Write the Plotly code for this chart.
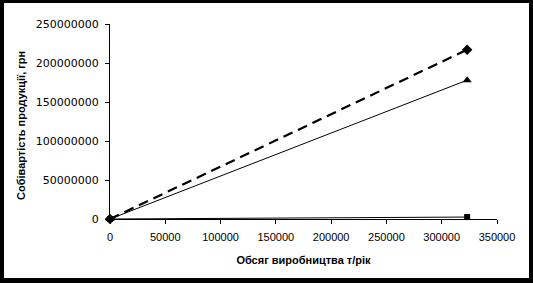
import plotly.graph_objects as go

# Data
x_vals = [0, 323000]
diamond_series = [0, 217000000]
triangle_series = [0, 178000000]
square_series = [0, 2500000]

x_title = "Обсяг виробництва т/рік"
y_title = "Собівартість продукції, грн"

W, H = 533, 283
L, R, T, B = 110, 36, 24, 64
PW, PH = W - L - R, H - T - B


def px(xp):
    return (xp - L) / PW


def py(yp):
    return (H - B - yp) / PH


fig = go.Figure()
fig.add_trace(go.Scatter(x=x_vals, y=square_series, mode="lines+markers",
                         line=dict(color="black", width=1),
                         marker=dict(symbol="square", size=6, color="black"),
                         cliponaxis=False))
fig.add_trace(go.Scatter(x=x_vals, y=triangle_series, mode="lines+markers",
                         line=dict(color="black", width=1),
                         marker=dict(symbol="triangle-up", size=8, color="black"),
                         cliponaxis=False))
fig.add_trace(go.Scatter(x=x_vals, y=diamond_series, mode="lines+markers",
                         line=dict(color="black", width=2.2, dash="10px,6px"),
                         marker=dict(symbol="diamond", size=8, color="black"),
                         cliponaxis=False))

shapes = []
for (x0, y0, x1, y1) in [(0, 0, 4, H), (0, 0, W, 3), (529, 0, W, H), (0, 278, W, H)]:
    shapes.append(dict(type="rect", xref="paper", yref="paper",
                       x0=px(x0), x1=px(x1), y0=py(y0), y1=py(y1),
                       fillcolor="black", line=dict(width=0), layer="above"))

fig.update_layout(
    width=W, height=H,
    margin=dict(l=L, r=R, t=T, b=B),
    paper_bgcolor="white", plot_bgcolor="white",
    showlegend=False,
    shapes=shapes,
    xaxis=dict(range=[0, 350000], dtick=50000, tick0=0, tickformat="d",
               showgrid=False, zeroline=False, showline=True, linecolor="black", linewidth=1,
               ticks="outside", ticklen=4, tickcolor="black", ticklabelstandoff=4,
               tickfont=dict(family="Liberation Sans", size=11, color="black"),
               title=dict(text=x_title, standoff=14,
                          font=dict(family="Liberation Sans", size=11, color="black", weight="bold"))),
    yaxis=dict(range=[0, 250000000], dtick=50000000, tick0=0, tickformat="d",
               showgrid=False, zeroline=False, showline=True, linecolor="black", linewidth=1,
               ticks="outside", ticklen=4, tickcolor="black", ticklabelstandoff=4,
               tickfont=dict(family="DejaVu Sans", size=11, color="black")),
    annotations=[dict(text="<b>" + y_title + "</b>", textangle=-90, xref="paper", yref="paper",
                      x=px(13), y=py(125), showarrow=False,
                      font=dict(family="Liberation Sans", size=11, color="black"))],
)

fig.write_html("out.html")
